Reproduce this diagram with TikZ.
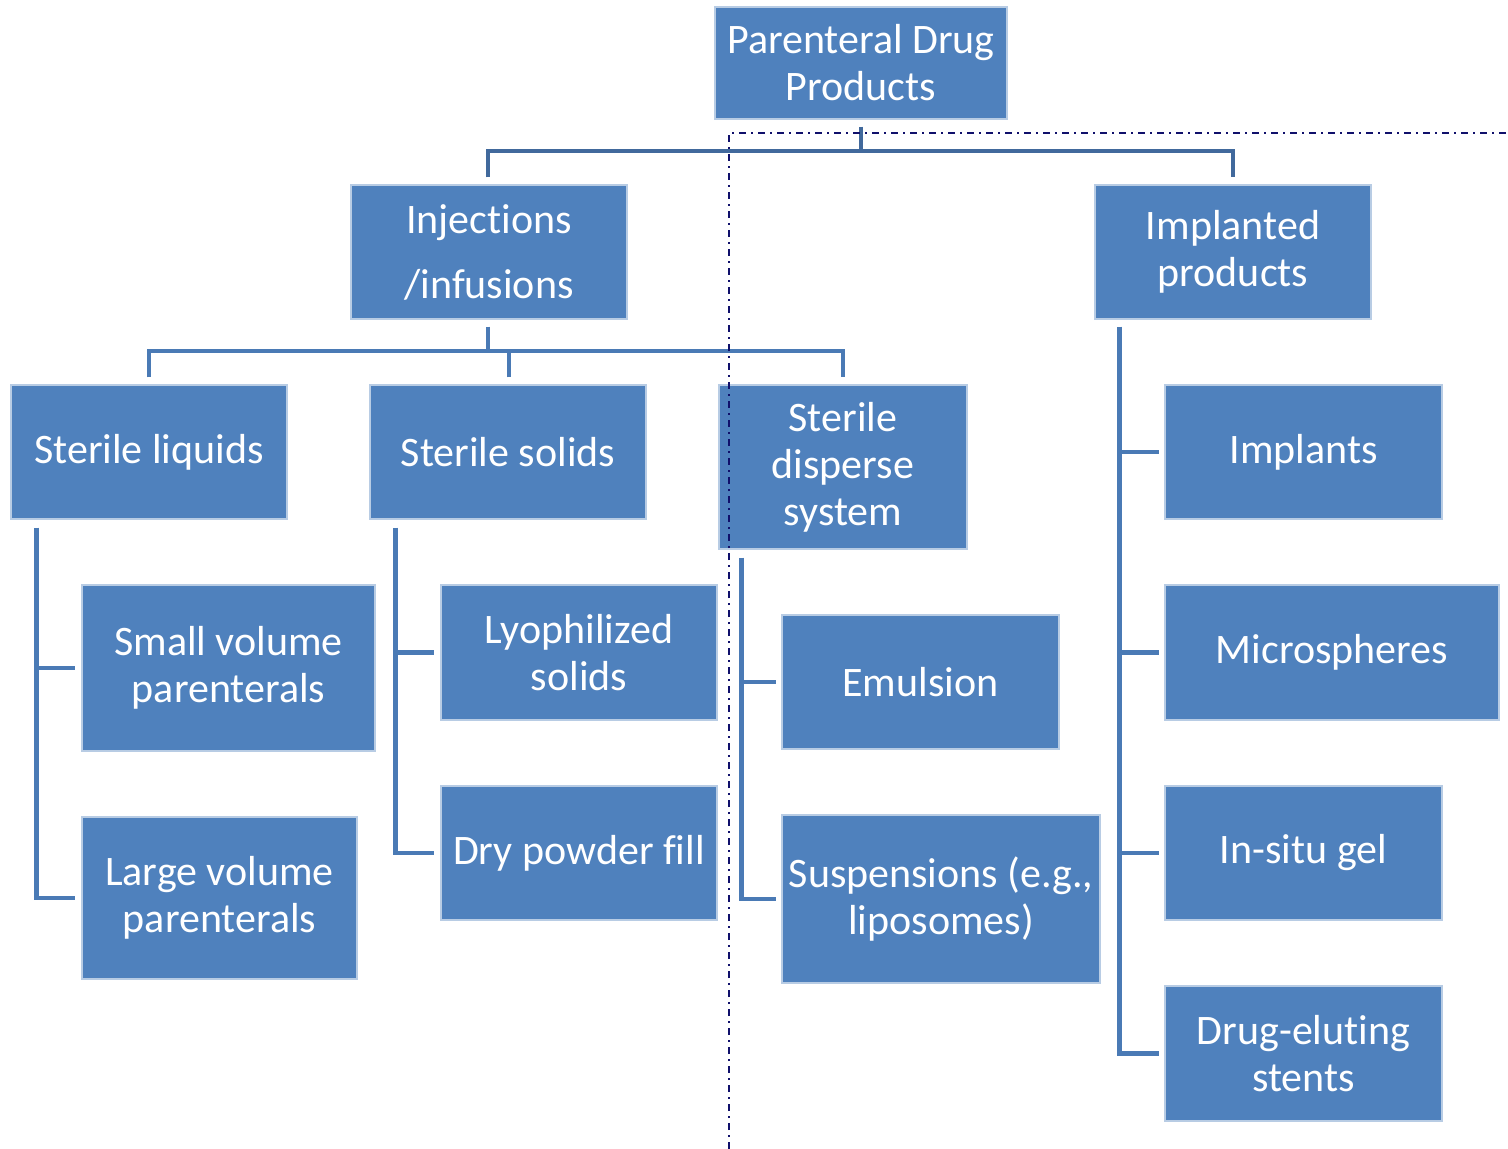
\documentclass[tikz,border=0pt]{standalone}
\usepackage{fontspec}
\setmainfont{Carlito}[Ligatures=NoCommon]
\usetikzlibrary{calc}
\definecolor{boxfill}{HTML}{4F81BD}
\definecolor{boxline}{HTML}{B8CCE4}
\definecolor{connc}{HTML}{4A7AB5}
\definecolor{topc}{HTML}{41699C}
\definecolor{navy}{HTML}{10106B}
\tikzset{
  box/.style={fill=boxfill, draw=boxline, line width=0.6pt, text=white, align=center, inner sep=0pt,
    font=\fontsize{21pt}{23.5pt}\selectfont},
  bw/.style={minimum width=#1*0.5pt},
  bh/.style={minimum height=#1*0.5pt},
  conn/.style={draw=connc, line width=2.4pt},
  topconn/.style={draw=topc, line width=2.4pt},
  divider/.style={draw=navy, line width=1pt, dash pattern=on 3.5pt off 2.5pt on 1pt off 2.5pt}
}
\begin{document}
\begin{tikzpicture}[x=0.5pt,y=-0.5pt]
\useasboundingbox (0,0) rectangle (1508,1149);
% boxes
\node[box,bw=292,bh=112] (top) at (861,63) {Parenteral Drug\\Products};
\node[box,bw=276,bh=134,font=\fontsize{21pt}{32.5pt}\selectfont] (inj) at (489,252) {Injections\\/infusions};
\node[box,bw=276,bh=134] (impl) at (1233,252) {Implanted\\products};
\node[box,bw=276,bh=134] (sl) at (149,452) {Sterile liquids};
\node[box,bw=276,bh=134] (ss) at (508,452) {Sterile solids};
\node[box,bw=248,bh=164] (sd) at (843,467) {Sterile\\disperse\\system};
\node[box,bw=277,bh=134] (imp) at (1303.5,452) {Implants};
\node[box,bw=293,bh=166] (svp) at (228.5,668) {Small volume\\parenterals};
\node[box,bw=276,bh=135] (lyo) at (579,652.5) {Lyophilized\\solids};
\node[box,bw=277,bh=134] (emu) at (920.5,682) {Emulsion};
\node[box,bw=334,bh=135] (mic) at (1332,652.5) {Microspheres};
\node[box,bw=275,bh=162] (lvp) at (219.5,898) {Large volume\\parenterals};
\node[box,bw=276,bh=134] (dpf) at (579,853) {Dry powder fill};
\node[box,bw=318,bh=168] (sus) at (941,899) {Suspensions (e.g.,\\liposomes)};
\node[box,bw=277,bh=134] (isg) at (1303.5,853) {In-situ gel};
\node[box,bw=277,bh=135] (des) at (1303.5,1053.5) {Drug-eluting\\stents};
% top bus
\coordinate (bus1) at (861,151);
\coordinate (injt) at ($(inj.north)+(-1,-7)$);
\coordinate (implt) at ($(impl.north)+(0,-7)$);
\draw[topconn] ($(top.south)+(0,7)$) -- (bus1);
\draw[topconn] (injt) -- (injt |- bus1) -- (implt |- bus1) -- (implt);
% injections bus
\coordinate (bus2) at (488,351);
\coordinate (slt) at ($(sl.north)+(0,-7)$);
\coordinate (sst) at ($(ss.north)+(1,-7)$);
\coordinate (sdt) at ($(sd.north)+(0,-7)$);
\draw[conn] ($(inj.south)+(-1,7)$) -- (bus2);
\draw[conn] (slt) -- (slt |- bus2) -- (sdt |- bus2) -- (sdt);
\draw[conn] (sst) -- (sst |- bus2);
% sterile liquids
\coordinate (v1) at ($(sl.south west)+(26,8)$);
\draw[conn] (v1) |- ($(lvp.west)+(-6,0)$);
\draw[conn] (v1 |- svp.west) -- ($(svp.west)+(-6,0)$);
% sterile solids
\coordinate (v2) at ($(ss.south west)+(26,8)$);
\draw[conn] (v2) |- ($(dpf.west)+(-6,0)$);
\draw[conn] (v2 |- lyo.west) -- ($(lyo.west)+(-6,0)$);
% disperse
\coordinate (v3) at ($(sd.south west)+(23,8)$);
\draw[conn] (v3) |- ($(sus.west)+(-5,0)$);
\draw[conn] (v3 |- emu.west) -- ($(emu.west)+(-5,0)$);
% implanted
\coordinate (v4) at ($(impl.south west)+(25,7)$);
\draw[conn] (v4) |- ($(des.west)+(-5,0)$);
\draw[conn] (v4 |- imp.west) -- ($(imp.west)+(-5,0)$);
\draw[conn] (v4 |- mic.west) -- ($(mic.west)+(-5,0)$);
\draw[conn] (v4 |- isg.west) -- ($(isg.west)+(-5,0)$);
% divider
\coordinate (d1) at (729,1149);
\coordinate (d2) at (729,133);
\coordinate (d3) at (1508,133);
\draw[divider] (d1) -- (d2) -- (d3);
\end{tikzpicture}
\end{document}
